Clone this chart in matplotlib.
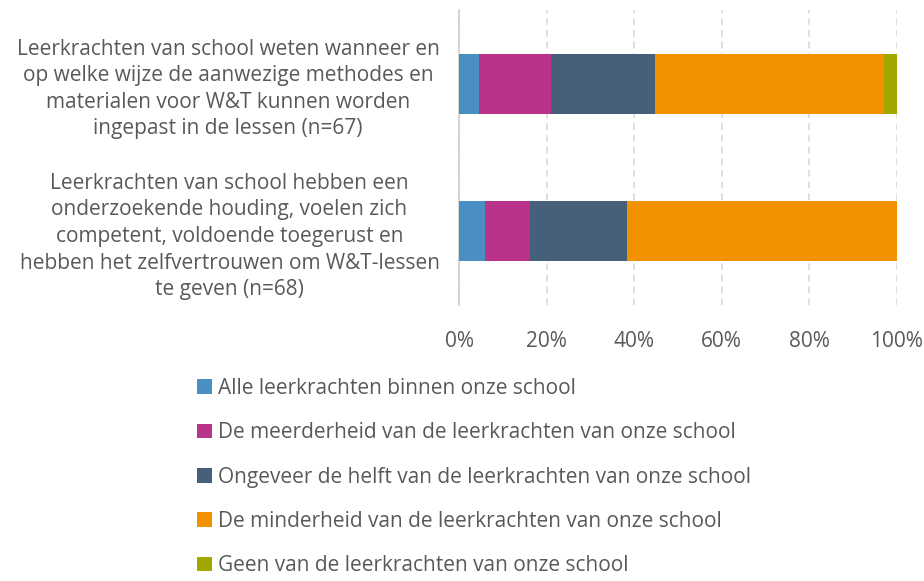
import matplotlib
matplotlib.use("Agg")
import matplotlib.pyplot as plt
from matplotlib.patches import Patch
import numpy as np

categories = [
    "Leerkrachten van school weten wanneer en\nop welke wijze de aanwezige methodes en\nmaterialen voor W&T kunnen worden\ningepast in de lessen (n=67)",
    "Leerkrachten van school hebben een\nonderzoekende houding, voelen zich\ncompetent, voldoende toegerust en\nhebben het zelfvertrouwen om W&T-lessen\nte geven (n=68)",
]
series_names = [
    "Alle leerkrachten binnen onze school",
    "De meerderheid van de leerkrachten van onze school",
    "Ongeveer de helft van de leerkrachten van onze school",
    "De minderheid van de leerkrachten van onze school",
    "Geen van de leerkrachten van onze school",
]
values = [
    [4.5, 5.9],
    [16.4, 10.3],
    [23.9, 22.1],
    [52.2, 61.8],
    [3.0, 0.0],
]
colors = ["#4A8FC4", "#B83389", "#465F7A", "#F29200", "#A0A800"]
xticks = [0, 20, 40, 60, 80, 100]
xticklabels = ["0%", "20%", "40%", "60%", "80%", "100%"]

plt.rcParams['font.family'] = ['Open Sans', 'DejaVu Sans']
txt = "#595959"
fs = 15

fig = plt.figure(figsize=(9.24, 5.81), dpi=100)
ax = fig.add_axes([459/924, 1-305/581, (897-459)/924, 295/581])

y = np.arange(len(categories))
left = np.zeros(len(categories))
for name, vals, c in zip(series_names, values, colors):
    vals = np.array(vals)
    ax.barh(y, vals, left=left, height=0.41, color=c, label=name, zorder=3)
    left += vals

ax.set_xlim(0, 100)
ax.set_ylim(1.5, -0.5)
ax.set_xticks(xticks)
ax.set_xticklabels(xticklabels, color=txt, fontsize=fs)
ax.set_yticks(y)
ax.set_yticklabels(categories, color=txt, fontsize=fs, multialignment='center', linespacing=1.35)
ax.tick_params(axis='both', length=0)
ax.tick_params(axis='x', pad=19)
ax.tick_params(axis='y', pad=14)
for s in ['top', 'right', 'bottom']:
    ax.spines[s].set_visible(False)
ax.spines['left'].set_color('#D0D0D0')
ax.spines['left'].set_linewidth(1.2)
ax.grid(axis='x', color='#D9D9D9', linestyle=(0, (4, 3)), linewidth=1.2, zorder=0)
ax.set_axisbelow(True)

handles = [Patch(facecolor=c, edgecolor='none') for c in colors]
fig.legend(handles, series_names, loc='upper left', bbox_to_anchor=(197/924, 1-378/581),
           frameon=False, fontsize=fs, labelcolor=txt, handlelength=0.7, handleheight=0.7,
           handletextpad=0.3, labelspacing=1.12, borderaxespad=0, borderpad=0)

fig.savefig("out.png", dpi=100)
